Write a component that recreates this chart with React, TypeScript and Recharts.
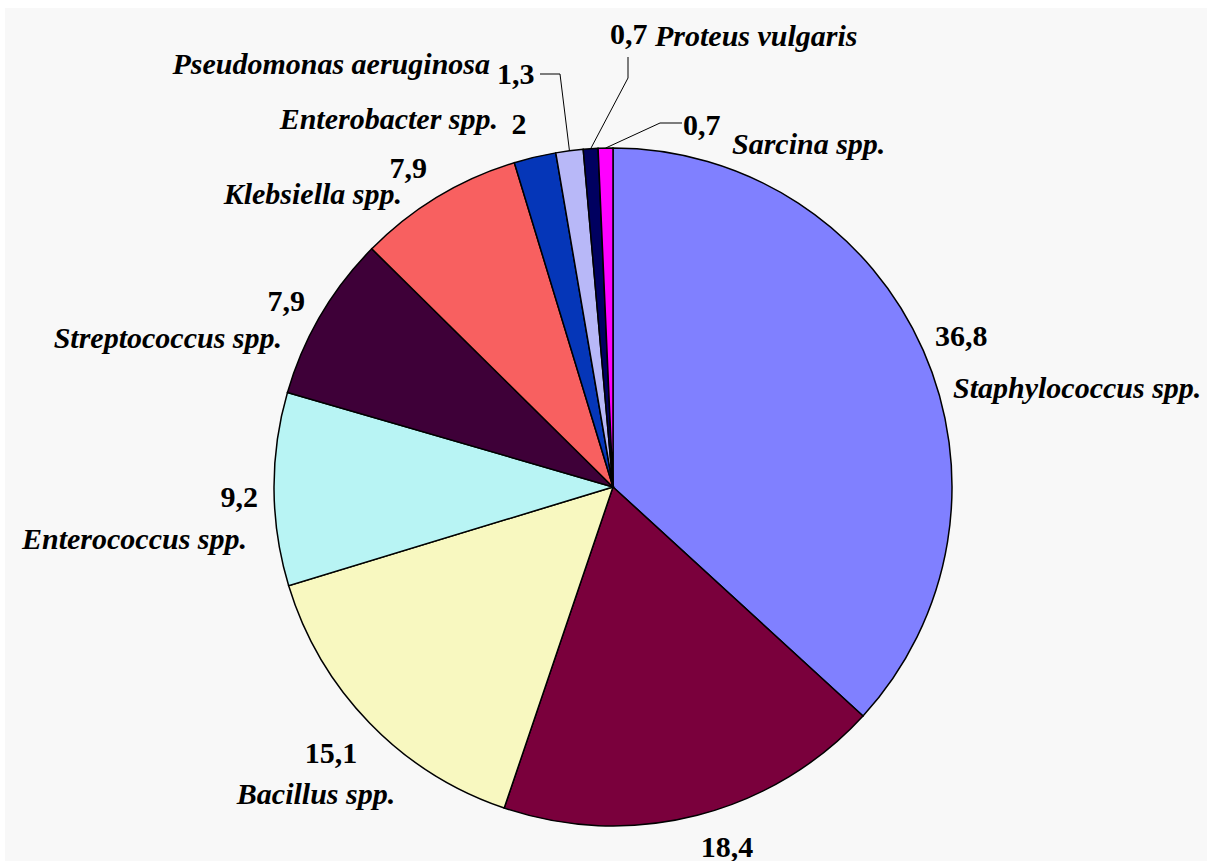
import React from 'react';
import { PieChart, Pie, Cell } from 'recharts';

// Share of isolates, %, clockwise from 12 o'clock
const names = [
  'Staphylococcus spp.',
  '',
  'Bacillus spp.',
  'Enterococcus spp.',
  'Streptococcus spp.',
  'Klebsiella spp.',
  'Enterobacter spp.',
  'Pseudomonas aeruginosa',
  'Proteus vulgaris',
  'Sarcina spp.',
];
const values = [36.8, 18.4, 15.1, 9.2, 7.9, 7.9, 2, 1.3, 0.7, 0.7];
const colors = [
  '#8080FF', '#7A003C', '#F8F8C0', '#B8F4F4', '#3E0038',
  '#F86060', '#0536B8', '#B8B8F8', '#000060', '#FF00FF',
];

const data = names.map((name, i) => ({ name, value: values[i] }));

// label placement relative to the pie centre
type Lbl = {
  v: [number, number, string];
  n?: [number, number, string];
  leader?: [number, number][];
};
const layout: Lbl[] = [
  { v: [322, -152, 'start'], n: [340, -100, 'start'] },
  { v: [114, 359, 'middle'] },
  { v: [-282, 265, 'middle'], n: [-297, 306, 'middle'] },
  { v: [-355, 9, 'end'], n: [-366, 51, 'end'] },
  { v: [-308, -187, 'end'], n: [-331, -150, 'end'] },
  { v: [-186, -320, 'end'], n: [-211, -294, 'end'] },
  { v: [-94, -364, 'middle'], n: [-115, -369, 'end'] },
  { v: [-116, -414, 'start'], n: [-123, -424, 'end'], leader: [[-73, -413], [-53, -413]] },
  { v: [-3, -454, 'start'], n: [42, -452, 'start'], leader: [[15, -430], [15, -409]] },
  { v: [70, -363, 'start'], n: [119, -344, 'start'], leader: [[69, -364], [47, -364]] },
];

const RAD = Math.PI / 180;
const fmt = (v: number) => String(v).replace('.', ',');
const FONT = 'Liberation Serif, Times New Roman, DejaVu Serif, Noto Serif, serif';

const renderLabel = (props: any) => {
  const { cx, cy, midAngle, outerRadius, index, value } = props;
  const l = layout[index];
  let line = null;
  if (l.leader) {
    const px = cx + outerRadius * Math.cos(-midAngle * RAD);
    const py = cy + outerRadius * Math.sin(-midAngle * RAD);
    const pts = l.leader.map(([x, y]) => `${cx + x},${cy + y}`).concat(`${px},${py}`);
    line = <polyline points={pts.join(' ')} fill="none" stroke="#000" strokeWidth={1} />;
  }
  return (
    <g key={`lbl-${index}`}>
      {line}
      <text
        x={cx + l.v[0]}
        y={cy + l.v[1]}
        textAnchor={l.v[2] as any}
        dominantBaseline="central"
        style={{ fontFamily: FONT, fontWeight: 700, fontSize: 30 }}
        fill="#000"
      >
        {fmt(value)}
      </text>
      {l.n && names[index] && (
        <text
          x={cx + l.n[0]}
          y={cy + l.n[1]}
          textAnchor={l.n[2] as any}
          dominantBaseline="central"
          style={{ fontFamily: FONT, fontWeight: 700, fontStyle: 'italic', fontSize: 30 }}
          fill="#000"
        >
          {names[index]}
        </text>
      )}
    </g>
  );
};

export default function App() {
  return (
    <div style={{ width: 1207, height: 861, background: '#fff', position: 'relative', fontFamily: FONT }}>
      <style>{'body{margin:0}'}</style>
      <div style={{ position: 'absolute', left: 5, top: 8, right: 0, bottom: 0, background: '#F8F8F8' }} />
      <div style={{ position: 'absolute', left: 0, top: 0 }}>
        <PieChart width={1207} height={861}>
          <Pie
            data={data}
            dataKey="value"
            nameKey="name"
            cx={608}
            cy={482}
            outerRadius={339}
            startAngle={90}
            endAngle={-270}
            stroke="#000"
            strokeWidth={1.5}
            label={renderLabel}
            labelLine={false}
            isAnimationActive={false}
          >
            {data.map((d, i) => (
              <Cell key={d.name + i} fill={colors[i]} />
            ))}
          </Pie>
        </PieChart>
      </div>
    </div>
  );
}
